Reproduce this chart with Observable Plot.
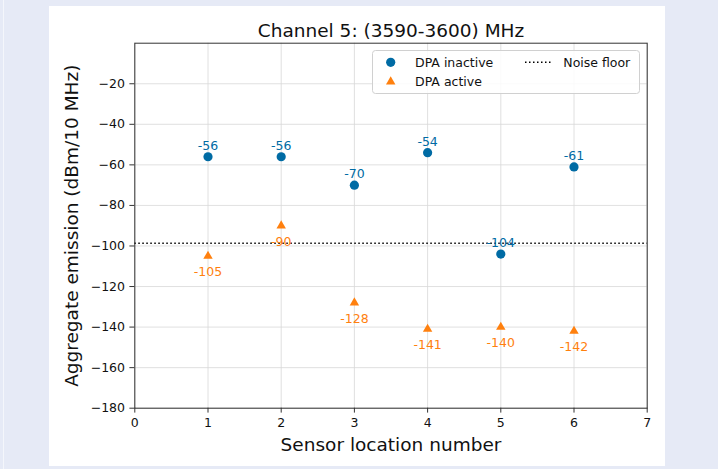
<!DOCTYPE html>
<html>
<head>
<meta charset="utf-8">
<script src="https://cdn.jsdelivr.net/npm/d3@7"></script>
<script src="https://cdn.jsdelivr.net/npm/@observablehq/plot@0.6"></script>
<style>
  html, body { margin: 0; padding: 0; width: 718px; height: 469px; overflow: hidden; background: #e6eaf6; font-family: "DejaVu Sans", sans-serif; }
  #edge { position: absolute; left: 3px; top: 0; width: 1px; height: 469px; background: #f4f6fb; }
  #panel { position: absolute; left: 49px; top: 6px; width: 616px; height: 460px; background: #ffffff; }
  #panel svg { display: block; }
  #legend { position: absolute; left: 372px; top: 50px; }
</style>
</head>
<body>
<div id="edge"></div>
<div id="panel"></div>
<svg id="legend" width="270" height="46"></svg>
<script>
// Sensor locations and aggregate emission levels (dBm/10 MHz)
const sensors = [1, 2, 3, 4, 5, 6];
const dpaInactive = [-56, -56, -70, -54, -104, -61];
const dpaActive = [-105, -90, -128, -141, -140, -142];
const noiseFloor = -98.6;

const xTicks = [0, 1, 2, 3, 4, 5, 6, 7];
const yTicks = [-20, -40, -60, -80, -100, -120, -140, -160, -180];

const titleText = "Channel 5: (3590-3600) MHz";
const xLabel = "Sensor location number";
const yLabel = "Aggregate emission (dBm/10 MHz)";
const seriesNames = ["DPA inactive", "DPA active", "Noise floor"];

const blue = "#006BA4";
const orange = "#FF800E";
const ink = "#111";

const inactive = sensors.map((s, i) => ({sensor: s, value: dpaInactive[i]}));
const active = sensors.map((s, i) => ({sensor: s, value: dpaActive[i]}));
const minus = d => d < 0 ? "\u2212" + Math.abs(d) : String(d);

const font = '"DejaVu Sans", sans-serif';
const small = 12.5;
const large = 18.5;

const chart = Plot.plot({
  width: 616,
  height: 460,
  marginLeft: 85.3,
  marginRight: 18.3,
  marginTop: 36.7,
  marginBottom: 58.3,
  style: {fontFamily: font, background: "transparent", overflow: "visible", color: ink},
  x: {domain: [0, 7]},
  y: {domain: [-180, 0]},
  marks: [
    Plot.gridX(xTicks, {stroke: "#d8d8d8", strokeOpacity: 1, strokeWidth: 0.8}),
    Plot.gridY(yTicks, {stroke: "#d8d8d8", strokeOpacity: 1, strokeWidth: 0.8}),
    Plot.ruleY([noiseFloor], {stroke: "#000", strokeWidth: 1.5, strokeDasharray: "1.5,2.5"}),
    Plot.dot(active, {x: "sensor", y: "value", symbol: "triangle", r: 3.5, fill: orange, stroke: null}),
    Plot.dot(inactive, {x: "sensor", y: "value", r: 4.6, fill: blue, stroke: null}),
    Plot.text(inactive, {x: "sensor", y: "value", text: d => String(d.value), dy: -11, fill: blue, fontSize: small}),
    Plot.text(active, {x: "sensor", y: "value", text: d => String(d.value), dy: 16, fill: orange, fontSize: small}),
    Plot.frame({stroke: "#333", strokeWidth: 1}),
    Plot.axisX(xTicks, {tickSize: 4.9, tickPadding: 4.9, fontSize: small, stroke: "#333", fill: ink, label: null}),
    Plot.axisY(yTicks, {tickSize: 4.9, tickPadding: 4.9, tickFormat: minus, fontSize: small, stroke: "#333", fill: ink, label: null}),
    Plot.text([titleText], {text: d => d, frameAnchor: "top", lineAnchor: "middle", textAnchor: "middle", dy: -12.6, fontSize: large, fill: ink}),
    Plot.text([xLabel], {text: d => d, frameAnchor: "bottom", lineAnchor: "middle", textAnchor: "middle", dy: 36.4, fontSize: large, fill: ink}),
    Plot.text([yLabel], {text: d => d, frameAnchor: "left", lineAnchor: "middle", textAnchor: "middle", rotate: -90, dx: -62.5, fontSize: large, fill: ink})
  ]
});
document.getElementById("panel").appendChild(chart);

// Legend: two columns, markers on the left of each entry
const lg = d3.select("#legend");
lg.append("rect")
  .attr("x", 0.5).attr("y", 0.5).attr("width", 267).attr("height", 43).attr("rx", 3)
  .attr("fill", "#fff").attr("fill-opacity", 0.85).attr("stroke", "#d0d0d0");
lg.append("circle").attr("cx", 18.7).attr("cy", 12.3).attr("r", 4.6).attr("fill", blue);
lg.append("path")
  .attr("d", d3.symbol(d3.symbolTriangle, 3.5 * 3.5 * Math.PI)())
  .attr("transform", "translate(18.7,31.7)").attr("fill", orange);
lg.append("line")
  .attr("x1", 153).attr("x2", 180).attr("y1", 12.3).attr("y2", 12.3)
  .attr("stroke", "#000").attr("stroke-width", 1.5).attr("stroke-dasharray", "1.5,2.5");
const entries = [
  {name: seriesNames[0], x: 43, y: 12.3},
  {name: seriesNames[1], x: 43, y: 31.7},
  {name: seriesNames[2], x: 191.3, y: 12.3}
];
lg.selectAll("text.entry").data(entries).join("text")
  .attr("class", "entry")
  .attr("x", d => d.x).attr("y", d => d.y).attr("dy", "0.35em")
  .attr("font-family", font).attr("font-size", small).attr("fill", ink)
  .text(d => d.name);
</script>
</body>
</html>
